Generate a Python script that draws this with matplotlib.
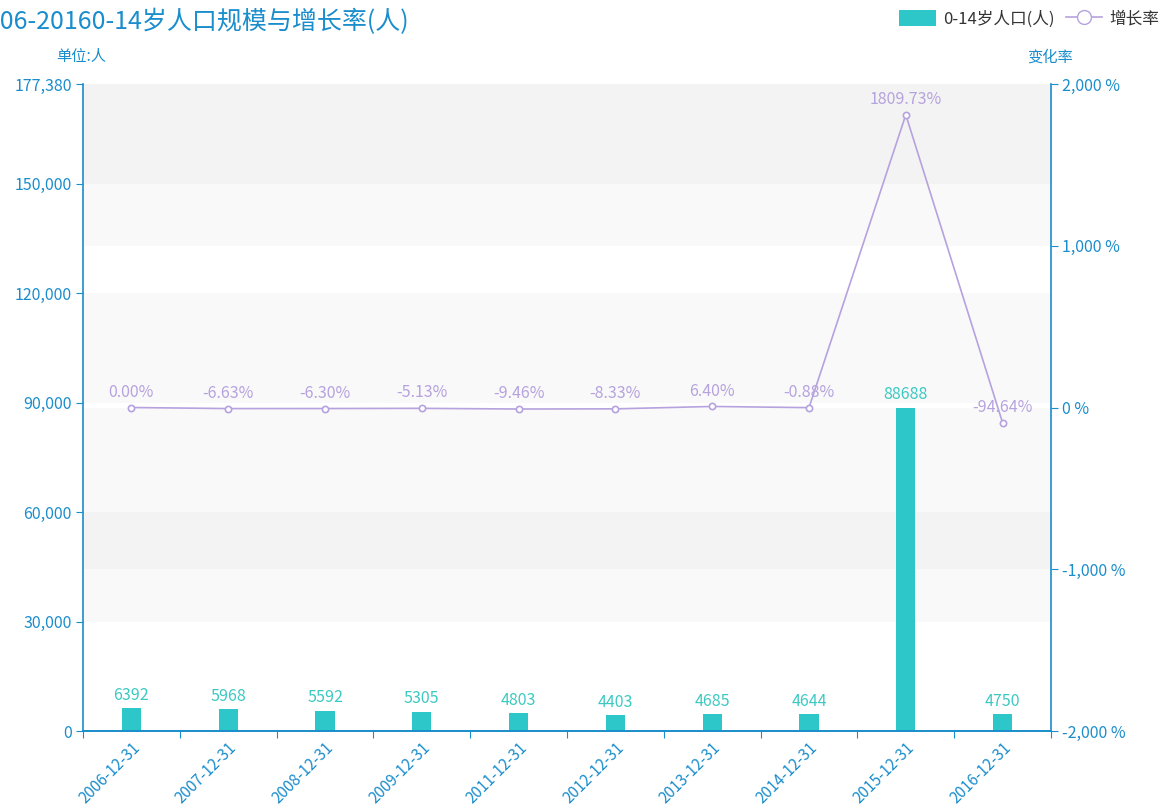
import matplotlib
matplotlib.use('Agg')
import matplotlib.pyplot as plt
from matplotlib.patches import Rectangle, Patch
from matplotlib.lines import Line2D
from matplotlib.transforms import blended_transform_factory
from matplotlib.ticker import FuncFormatter, FixedLocator

plt.rcParams['font.family'] = ['Noto Sans CJK SC', 'DejaVu Sans']

# Datos
fechas = ['2006-12-31', '2007-12-31', '2008-12-31', '2009-12-31', '2011-12-31',
          '2012-12-31', '2013-12-31', '2014-12-31', '2015-12-31', '2016-12-31']
poblacion = [6392, 5968, 5592, 5305, 4803, 4403, 4685, 4644, 88688, 4750]
crecimiento = [0.00, -6.63, -6.30, -5.13, -9.46, -8.33, 6.40, -0.88, 1809.73, -94.64]

ticks_izq = [0, 30000, 60000, 90000, 120000, 150000, 177380]
ticks_der = [-2000, -1000, 0, 1000, 2000]

azul = '#1a8dcc'
verde = '#2ec7c9'
morado = '#b6a2de'

fig = plt.figure(figsize=(11.67, 8.10), dpi=100)
ax = fig.add_axes([83 / 1167, 1 - 731 / 810, (1051 - 83) / 1167, (731 - 84) / 810])
ax2 = ax.twinx()

x = list(range(len(fechas)))
ax.set_xlim(-0.5, len(fechas) - 0.5)
ax.set_ylim(ticks_izq[0], ticks_izq[-1])
ax2.set_ylim(ticks_der[0], ticks_der[-1])

# Bandas de fondo (splitArea de ambos ejes)
gris = '#000000'
for i in range(len(ticks_izq) - 1):
    if i % 2 == 1:
        ax.add_patch(Rectangle((0, ticks_izq[i]), 1, ticks_izq[i + 1] - ticks_izq[i],
                               transform=ax.get_yaxis_transform(), color=gris,
                               alpha=0.025, lw=0, zorder=0))
tr = blended_transform_factory(ax.transAxes, ax2.transData)
for i in range(len(ticks_der) - 1):
    if i % 2 == 1:
        ax.add_patch(Rectangle((0, ticks_der[i]), 1, ticks_der[i + 1] - ticks_der[i],
                               transform=tr, color=gris, alpha=0.025, lw=0, zorder=0))

# Barras
ax.bar(x, poblacion, width=0.2, color=verde, zorder=2)
for xi, v in zip(x, poblacion):
    ax.annotate(str(v), (xi, v), xytext=(0, 3), textcoords='offset points',
                ha='center', va='bottom', fontsize=11.5, color='#3cc9c2', zorder=3)

# Línea
ax2.plot(x, crecimiento, color=morado, lw=1.2, marker='o', ms=4.5,
         mfc='white', mec=morado, mew=1.2, zorder=4)
for xi, v in zip(x, crecimiento):
    ax2.annotate('%.2f%%' % v, (xi, v), xytext=(0, 5), textcoords='offset points',
                 ha='center', va='bottom', fontsize=11.5, color=morado, zorder=5)

# Ejes
for a in (ax, ax2):
    a.spines['top'].set_visible(False)
    for s in ('left', 'right', 'bottom'):
        a.spines[s].set_color(azul)
        a.spines[s].set_linewidth(1.2)
ax.spines['right'].set_visible(False)
ax2.spines['left'].set_visible(False)

ax.xaxis.set_major_locator(FixedLocator([i - 0.5 for i in range(len(fechas) + 1)]))
ax.xaxis.set_minor_locator(FixedLocator(x))
ax.set_xticklabels([], minor=False)
ax.set_xticklabels(fechas, minor=True, rotation=45, ha='right', rotation_mode='anchor',
                   fontsize=11, color=azul)
ax.tick_params(axis='x', which='major', length=5, color=azul, direction='out')
ax.tick_params(axis='x', which='minor', length=0, pad=6)

ax.set_yticks(ticks_izq)
ax.yaxis.set_major_formatter(FuncFormatter(lambda v, p: '{:,.0f}'.format(v)))
ax.tick_params(axis='y', length=5, color=azul, labelcolor=azul, labelsize=11.5, pad=3)

ax2.set_yticks(ticks_der)
ax2.yaxis.set_major_formatter(FuncFormatter(lambda v, p: '{:,.0f} %'.format(v)))
ax2.tick_params(axis='y', length=5, color=azul, labelcolor=azul, labelsize=11.5, pad=3)

ax.patch.set_visible(False)
ax.set_zorder(ax2.get_zorder() - 1)
ax2.patch.set_visible(False)

# Textos
fig.text(-27 / 1167, 1 - 22 / 810, '2006-20160-14岁人口规模与增长率(人)', fontsize=18,
         color=azul, ha='left', va='center')
fig.text(81 / 1167, 1 - 56 / 810, '单位:人', fontsize=11, color=azul, ha='center', va='center')
fig.text(1050 / 1167, 1 - 57 / 810, '变化率', fontsize=11, color=azul, ha='center', va='center')

handles = [Patch(facecolor=verde, edgecolor='none'),
           Line2D([0], [0], color=morado, lw=1.2, marker='o', ms=10, mfc='white', mec=morado)]
fig.legend(handles, ['0-14岁人口(人)', '增长率'], loc='upper right', bbox_to_anchor=(1.006, 1.006),
           ncol=2, frameon=False, fontsize=12, handlelength=2.2, handleheight=1.1,
           columnspacing=0.7, handletextpad=0.4, labelcolor='#333333')

fig.savefig('out.png', dpi=100)
